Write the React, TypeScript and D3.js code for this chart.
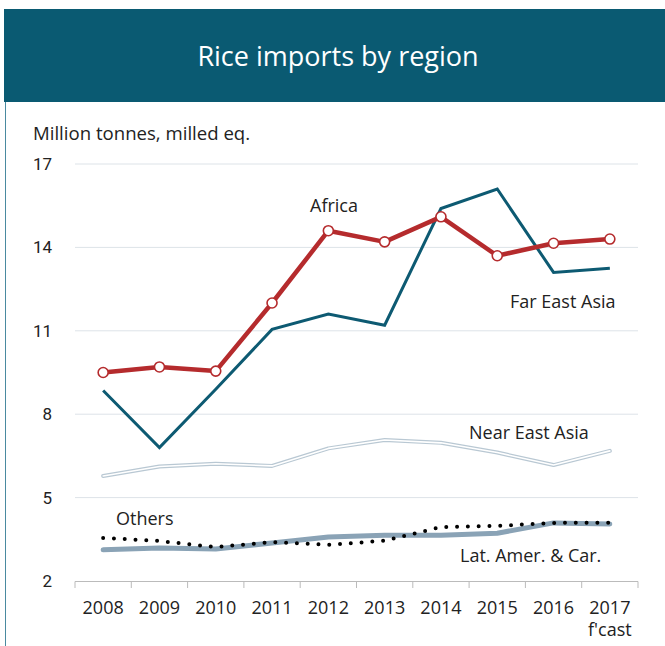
import React from "react";
import * as d3 from "d3";

const years = ["2008", "2009", "2010", "2011", "2012", "2013", "2014", "2015", "2016", "2017"];
const africa = [9.5, 9.7, 9.55, 12.0, 14.6, 14.2, 15.1, 13.7, 14.15, 14.3];
const farEastAsia = [8.85, 6.8, 8.9, 11.05, 11.6, 11.2, 15.4, 16.1, 13.1, 13.25];
const nearEastAsia = [5.78, 6.12, 6.22, 6.14, 6.77, 7.07, 6.97, 6.62, 6.17, 6.68];
const others = [3.55, 3.44, 3.22, 3.4, 3.3, 3.45, 3.94, 3.98, 4.09, 4.1];
const latAmer = [3.12, 3.19, 3.15, 3.37, 3.58, 3.65, 3.65, 3.72, 4.09, 4.05];
const yTicks = [2, 5, 8, 11, 14, 17];

const W = 665, H = 646;
const font = "'Open Sans', sans-serif";

export default function App() {
  const x = d3.scaleBand().domain(years).range([75, 638]);
  const y = d3.scaleLinear().domain([2, 17]).range([581, 164]);
  const cx = (d: string) => (x(d) as number) + x.bandwidth() / 2;
  const line = d3.line<number>().x((_, i) => cx(years[i])).y((v) => y(v));

  return (
    <svg width={W} height={H} style={{ position: "absolute", left: 0, top: 0 }}>
      <rect x={0} y={0} width={W} height={H} fill="#fff" />
      <rect x={4} y={9} width={W - 4} height={93} fill="#0a5a72" />
      <line x1={5.5} x2={5.5} y1={102} y2={H} stroke="#4a8aa0" strokeWidth={1} />
      <text x={338} y={66} textAnchor="middle" fill="#fff" fontFamily={font} fontSize={27}>
        Rice imports by region
      </text>
      <text x={33} y={140} fill="#222" fontFamily={font} fontSize={18.6}>
        Million tonnes, milled eq.
      </text>
      {yTicks.map((t) => (
        <g key={t}>
          {t !== 2 && (
            <line x1={75} x2={638} y1={y(t)} y2={y(t)} stroke="#dde3e8" strokeWidth={1} />
          )}
          <text x={52} y={y(t) + 6} textAnchor="end" fill="#222" fontFamily="Roboto, sans-serif" fontSize={17}>
            {t}
          </text>
        </g>
      ))}
      <line x1={75} x2={638} y1={581.5} y2={581.5} stroke="#bbb" strokeWidth={1} />
      {[...years.map((d) => x(d) as number), 638].map((px, i) => (
        <line key={i} x1={px} x2={px} y1={581.5} y2={588} stroke="#bbb" strokeWidth={1} />
      ))}
      {years.map((d) => (
        <text key={d} x={cx(d)} y={614} textAnchor="middle" fill="#222" fontFamily={font} fontSize={18}>
          {d}
        </text>
      ))}
      <text x={cx("2017")} y={636} textAnchor="middle" fill="#222" fontFamily={font} fontSize={18}>
        f'cast
      </text>

      <path d={line(latAmer) ?? ""} fill="none" stroke="#8aa3b6" strokeWidth={5} strokeLinecap="round" strokeLinejoin="round" />
      <path d={line(others) ?? ""} fill="none" stroke="#000" strokeWidth={4} strokeLinecap="round" strokeDasharray="0 10.8" />
      <path d={line(nearEastAsia) ?? ""} fill="none" stroke="#b9c8d3" strokeWidth={4} strokeLinecap="round" strokeLinejoin="round" />
      <path d={line(nearEastAsia) ?? ""} fill="none" stroke="#fff" strokeWidth={1.6} strokeLinecap="round" strokeLinejoin="round" />
      <path d={line(farEastAsia) ?? ""} fill="none" stroke="#0d5a72" strokeWidth={3} strokeLinejoin="miter" />
      <path d={line(africa) ?? ""} fill="none" stroke="#b52b2d" strokeWidth={4.5} strokeLinejoin="round" />
      {africa.map((v, i) => (
        <circle key={i} cx={cx(years[i])} cy={y(v)} r={5} fill="#fff" stroke="#b52b2d" strokeWidth={1.6} />
      ))}

      <text x={310} y={212} fill="#222" fontFamily={font} fontSize={18}>Africa</text>
      <text x={510} y={308} fill="#222" fontFamily={font} fontSize={18}>Far East Asia</text>
      <text x={469} y={439} fill="#222" fontFamily={font} fontSize={18}>Near East Asia</text>
      <text x={116} y={525} fill="#222" fontFamily={font} fontSize={18}>Others</text>
      <text x={460} y={562} fill="#222" fontFamily={font} fontSize={18}>Lat. Amer. &amp; Car.</text>
    </svg>
  );
}
